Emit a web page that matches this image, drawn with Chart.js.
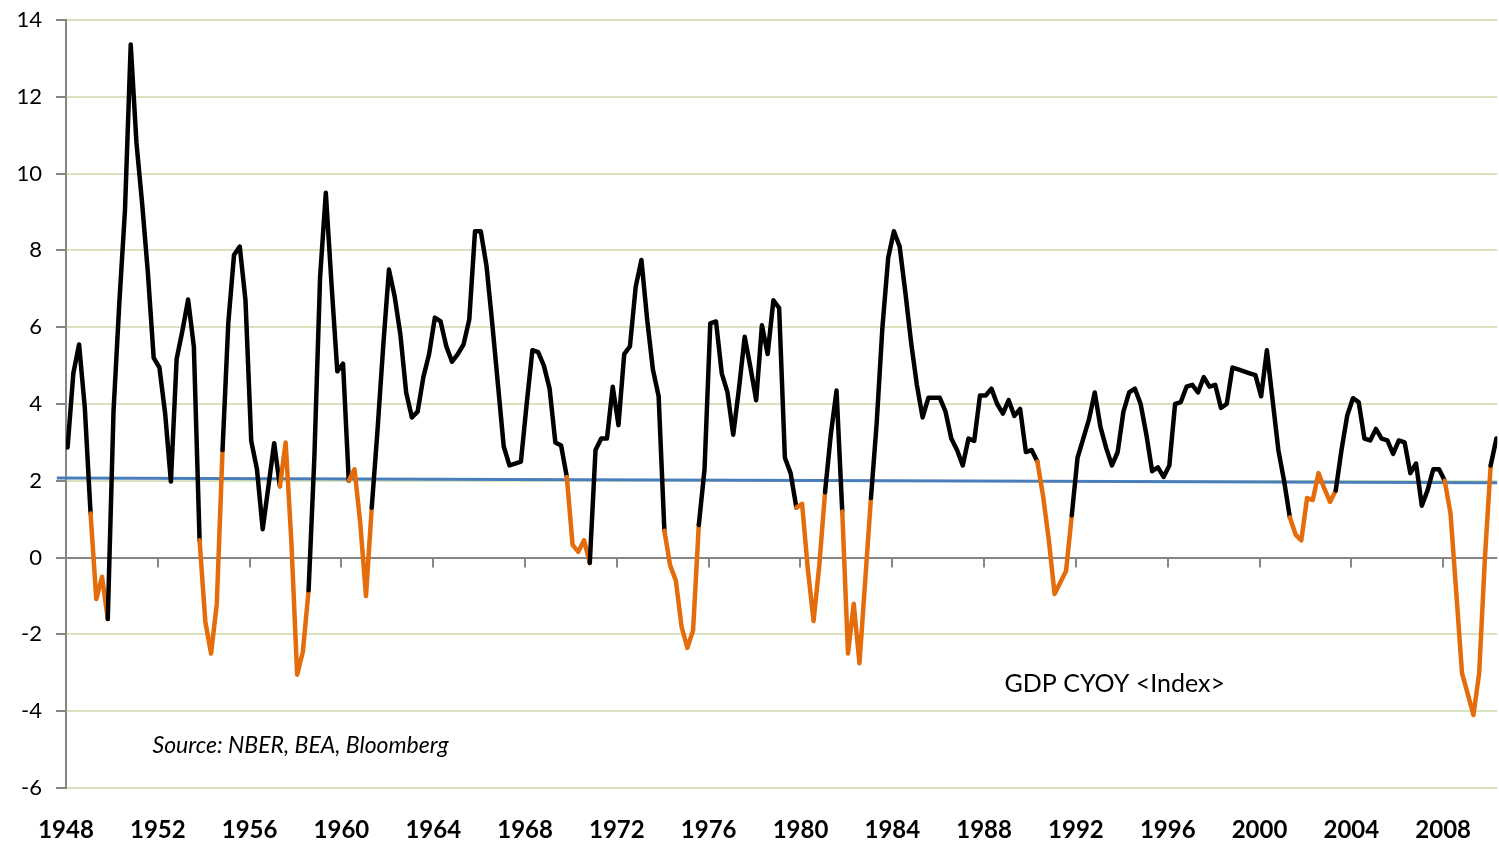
<!DOCTYPE html>
<html>
<head>
<meta charset="utf-8">
<script src="https://cdn.jsdelivr.net/npm/chart.js@4.4.0/dist/chart.umd.min.js"></script>
<style>
  html, body { margin: 0; padding: 0; background: #fff; }
  #wrap { width: 1499px; height: 843px; }
</style>
</head>
<body>
<div id="wrap"><canvas id="chartGdp" width="1499" height="843"></canvas></div>
<script>
// GDP CYOY <Index>, quarterly, first observation 1948 Q1
const gdpFirstYear = 1948.07;
const gdpYoy = [
    2.87, 4.8, 5.55, 3.9, 1.15, -1.08, -0.5, -1.6,      // 1948-49
    3.8, 6.6, 9.05, 13.36, 10.8, 9.2, 7.4, 5.2,         // 1950-51
    4.95, 3.75, 1.98, 5.17, 5.9, 6.72, 5.5, 0.45,       // 1952-53
    -1.67, -2.5, -1.2, 2.8, 6.1, 7.88, 8.1, 6.7,        // 1954-55
    3.04, 2.3, 0.74, 1.86, 2.98, 1.86, 3.0, 0.4,        // 1956-57
    -3.05, -2.45, -0.85, 2.6, 7.3, 9.5, 7.1, 4.85,      // 1958-59
    5.05, 2.0, 2.3, 0.9, -1.0, 1.3, 3.3, 5.5,           // 1960-61
    7.5, 6.8, 5.8, 4.3, 3.65, 3.8, 4.7, 5.3,            // 1962-63
    6.25, 6.15, 5.5, 5.1, 5.3, 5.55, 6.2, 8.5,          // 1964-65
    8.5, 7.6, 6.1, 4.5, 2.9, 2.4, 2.45, 2.5,            // 1966-67
    4.0, 5.4, 5.35, 5.0, 4.4, 3.0, 2.92, 2.1,           // 1968-69
    0.33, 0.15, 0.45, -0.14, 2.8, 3.1, 3.1, 4.45,       // 1970-71
    3.45, 5.3, 5.5, 7.05, 7.75, 6.2, 4.9, 4.2,          // 1972-73
    0.7, -0.2, -0.6, -1.8, -2.35, -1.9, 0.85, 2.3,      // 1974-75
    6.1, 6.15, 4.8, 4.3, 3.2, 4.4, 5.75, 4.95,          // 1976-77
    4.1, 6.05, 5.3, 6.7, 6.5, 2.6, 2.2, 1.3,            // 1978-79
    1.4, -0.3, -1.65, -0.2, 1.7, 3.2, 4.35, 1.2,        // 1980-81
    -2.5, -1.2, -2.75, -0.6, 1.55, 3.5, 6.0, 7.8,       // 1982-83
    8.5, 8.1, 6.9, 5.6, 4.5, 3.65, 4.16, 4.16,          // 1984-85
    4.16, 3.8, 3.1, 2.8, 2.4, 3.1, 3.04, 4.22,          // 1986-87
    4.22, 4.4, 4.0, 3.75, 4.1, 3.69, 3.87, 2.75,        // 1988-89
    2.8, 2.5, 1.6, 0.45, -0.95, -0.65, -0.35, 1.1,      // 1990-91
    2.6, 3.1, 3.6, 4.3, 3.4, 2.85, 2.4, 2.75,           // 1992-93
    3.8, 4.3, 4.4, 4.0, 3.2, 2.25, 2.35, 2.1,           // 1994-95
    2.4, 4.0, 4.05, 4.45, 4.5, 4.3, 4.7, 4.45,          // 1996-97
    4.5, 3.9, 4.0, 4.95, 4.9, 4.85, 4.8, 4.75,          // 1998-99
    4.2, 5.4, 4.1, 2.8, 2.0, 1.05, 0.6, 0.45,           // 2000-01
    1.55, 1.5, 2.2, 1.8, 1.45, 1.75, 2.8, 3.7,          // 2002-03
    4.15, 4.05, 3.1, 3.05, 3.35, 3.1, 3.05, 2.7,        // 2004-05
    3.05, 3.0, 2.2, 2.45, 1.35, 1.75, 2.3, 2.3,         // 2006-07
    2.0, 1.15, -0.9, -3.0, -3.55, -4.1, -3.0, 0.0,      // 2008-09
    2.4, 3.1                                            // 2010
];

// stretches drawn in orange (first and last quarter index)
const recessions = [
    [4, 7], [23, 27], [37, 42], [49, 53], [87, 91], [104, 110],
    [127, 132], [135, 140], [169, 175], [213, 221], [240, 248]
];

// long run trend line
const trendYears = [1947.6, 2010.36];
const trendValues = [2.07, 1.95];

const yearTicks = [1948, 1952, 1956, 1960, 1964, 1968, 1972, 1976, 1980, 1984, 1988, 1992, 1996, 2000, 2004, 2008];
const valueTicks = [-6, -4, -2, 0, 2, 4, 6, 8, 10, 12, 14];

const NEGRO = '#000000';
const NARANJA = '#E46C0A';
const AZUL = '#4A7EBB';
const GRIS = '#868686';
const VERDE = '#D7E4BD';

function enRecesion(i) {
    return recessions.some(r => i >= r[0] && i <= r[1]);
}

const puntosGdp = gdpYoy.map((v, i) => ({ x: gdpFirstYear + i * 0.25, y: v }));
const puntosTrend = trendYears.map((x, i) => ({ x: x, y: trendValues[i] }));

// tick marks on the zero line + text notes
const extras = {
    id: 'extras',
    beforeDatasetsDraw(chart) {
        const ctx = chart.ctx;
        const x = chart.scales.x;
        const y0 = chart.scales.y.getPixelForValue(0);
        ctx.save();
        ctx.strokeStyle = GRIS;
        ctx.lineWidth = 2;
        yearTicks.forEach(t => {
            const px = Math.round(x.getPixelForValue(t));
            ctx.beginPath();
            ctx.moveTo(px, y0);
            ctx.lineTo(px, y0 + 10);
            ctx.stroke();
        });
        ctx.restore();
    },
    afterDraw(chart) {
        const ctx = chart.ctx;
        const x = chart.scales.x;
        const y = chart.scales.y;
        ctx.save();
        ctx.fillStyle = NEGRO;
        ctx.textBaseline = 'middle';
        ctx.textAlign = 'left';
        ctx.font = '25px Lato';
        ctx.fillText('GDP CYOY <Index>', x.getPixelForValue(1988.89), y.getPixelForValue(-3.29));
        ctx.font = 'italic 23px Lato';
        ctx.fillText('Source: NBER, BEA, Bloomberg', x.getPixelForValue(1951.77), y.getPixelForValue(-4.9));
        ctx.restore();
    }
};

new Chart(document.getElementById('chartGdp').getContext('2d'), {
    type: 'line',
    data: {
        datasets: [{
            label: 'GDP CYOY',
            data: puntosGdp,
            borderColor: NEGRO,
            borderWidth: 4.5,
            borderJoinStyle: 'round',
            borderCapStyle: 'round',
            pointRadius: 0,
            tension: 0,
            segment: {
                borderColor: c => (enRecesion(c.p0DataIndex) && enRecesion(c.p1DataIndex)) ? NARANJA : NEGRO
            }
        }, {
            label: 'Trend',
            data: puntosTrend,
            borderColor: AZUL,
            borderWidth: 3,
            pointRadius: 0,
            tension: 0,
            clip: { left: 12, top: 0, right: 0, bottom: 0 }
        }]
    },
    options: {
        responsive: false,
        animation: false,
        devicePixelRatio: 1,
        layout: { padding: { top: 20, right: 0, bottom: 0, left: 0 } },
        plugins: {
            legend: { display: false },
            tooltip: { enabled: false }
        },
        scales: {
            x: {
                type: 'linear',
                min: 1948,
                max: 2010.36,
                grid: { display: false, drawTicks: false },
                border: { display: false },
                afterBuildTicks: s => { s.ticks = yearTicks.map(v => ({ value: v })); },
                afterFit: s => { s.height = 55; },
                ticks: {
                    autoSkip: false,
                    maxRotation: 0,
                    padding: 28,
                    color: NEGRO,
                    font: { family: 'Lato', size: 24, weight: 'bold' },
                    callback: v => String(v)
                }
            },
            y: {
                min: -6,
                max: 14,
                afterBuildTicks: s => { s.ticks = valueTicks.map(v => ({ value: v })); },
                afterFit: s => { s.width = 66; },
                grid: {
                    color: c => c.tick && c.tick.value === 0 ? GRIS : VERDE,
                    lineWidth: 2,
                    tickColor: GRIS,
                    tickLength: 10
                },
                border: { color: GRIS, width: 2 },
                ticks: {
                    padding: 14,
                    color: NEGRO,
                    font: { family: 'Lato', size: 22, lineHeight: 0.5 }
                }
            }
        }
    },
    plugins: [extras]
});
</script>
</body>
</html>
